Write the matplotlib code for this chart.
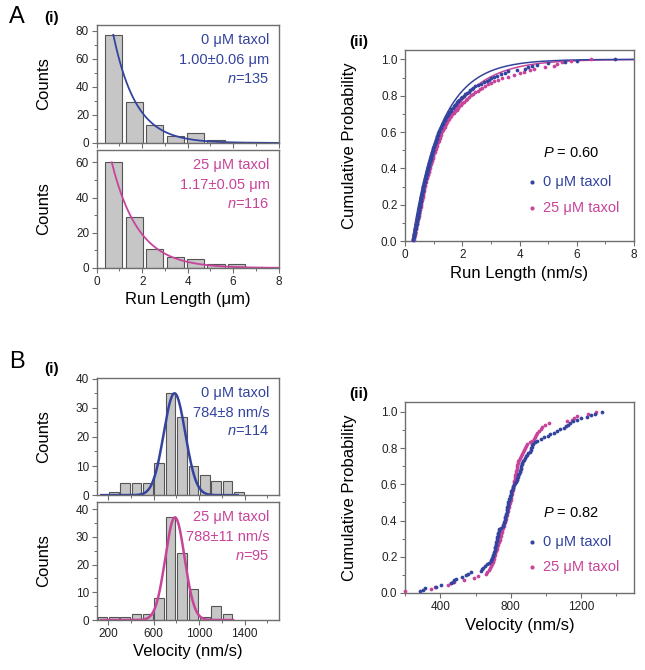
import numpy as np
import matplotlib.pyplot as plt
from matplotlib.ticker import MultipleLocator

plt.rcParams["font.family"] = ["Liberation Sans", "DejaVu Sans"]
plt.rcParams["mathtext.fontset"] = "custom"
plt.rcParams["mathtext.rm"] = "Liberation Sans"
plt.rcParams["mathtext.it"] = "Liberation Sans:italic"

BLUE = "#34449e"
MAGENTA = "#c8449b"
SPINE = "#6e6e6e"

# run length histograms (bins of 0.9 um)
rl_centers = [0.75, 1.65, 2.55, 3.45, 4.35, 5.25, 6.15, 7.05]
rl_counts_0 = [77, 29, 13, 5, 7, 2, 1, 1]
rl_counts_25 = [60, 29, 11, 6, 5, 2, 2, 0]
rl_fit_len = [1.00, 1.17]
rl_fit_amp = [77, 60]
rl_fit_start = [0.73, 0.66]
rl_cdf_offset = 0.25

# velocity histograms (bins of 100 nm/s)
vel_centers = [150, 250, 350, 450, 550, 650, 750, 850, 950, 1050, 1150, 1250, 1350]
vel_counts_0 = [0, 1, 4, 4, 4, 11, 35, 27, 10, 7, 5, 5, 1]
vel_counts_25 = [1, 1, 1, 2, 2, 8, 37, 24, 11, 1, 5, 2, 0]
vel_fit_mean = [784, 788]
vel_fit_sd = [95, 85]
vel_fit_amp = [35, 37]
vel_fit_end = [1340, 1300]

# sorted single-molecule values for the cumulative plots
rl_sorted_0 = [
    0.28, 0.29, 0.30, 0.31, 0.32, 0.33, 0.34, 0.35, 0.36, 0.37, 0.38, 0.39, 0.40, 0.41,
    0.42, 0.43, 0.44, 0.45, 0.46, 0.46, 0.47, 0.48, 0.49, 0.50, 0.50, 0.51, 0.52,
    0.53, 0.54, 0.55, 0.56, 0.56, 0.57, 0.58, 0.59, 0.60, 0.61, 0.61, 0.62, 0.63, 0.64,
    0.65, 0.67, 0.68, 0.69, 0.71, 0.72, 0.73, 0.74, 0.75, 0.76, 0.77, 0.79, 0.80,
    0.81, 0.83, 0.84, 0.85, 0.87, 0.88, 0.89, 0.90, 0.92, 0.93, 0.94, 0.95, 0.97, 0.98,
    0.99, 1.01, 1.02, 1.04, 1.05, 1.07, 1.08, 1.10, 1.11, 1.13, 1.15, 1.16, 1.18,
    1.20, 1.22, 1.24, 1.27, 1.29, 1.31, 1.34, 1.37, 1.39, 1.41, 1.44, 1.46, 1.49, 1.52,
    1.55, 1.59, 1.62, 1.66, 1.70, 1.74, 1.78, 1.82, 1.86, 1.90, 1.95, 2.00, 2.05,
    2.10, 2.16, 2.22, 2.28, 2.33, 2.39, 2.45,
    2.55, 2.65, 2.75, 2.85, 2.95, 3.02, 3.10,
    3.20, 3.35, 3.50, 3.60, 3.90, 4.20, 4.30, 4.45, 4.60, 5.00, 5.60, 6.00, 7.35,
]
rl_sorted_25 = [
    0.30, 0.31, 0.32, 0.33, 0.34, 0.35, 0.36, 0.37, 0.38, 0.39, 0.41, 0.42,
    0.43, 0.44, 0.45, 0.47, 0.48, 0.49, 0.50, 0.51, 0.52, 0.54, 0.55,
    0.56, 0.57, 0.58, 0.59, 0.61, 0.62, 0.63, 0.64, 0.65, 0.66, 0.67, 0.68,
    0.70, 0.71, 0.73, 0.74, 0.76, 0.77, 0.79, 0.80, 0.82, 0.83, 0.85,
    0.86, 0.88, 0.89, 0.91, 0.93, 0.94, 0.96, 0.98, 0.99, 1.01, 1.03, 1.05,
    1.07, 1.09, 1.11, 1.13, 1.15, 1.17, 1.19, 1.21, 1.23, 1.25, 1.27, 1.29,
    1.32, 1.35, 1.38, 1.41, 1.44, 1.47, 1.50, 1.54, 1.57, 1.61, 1.65,
    1.70, 1.75, 1.80, 1.85, 1.90, 1.95, 2.00, 2.06, 2.12, 2.18, 2.24, 2.30,
    2.38, 2.46, 2.54, 2.62, 2.70, 2.78, 2.90, 3.00, 3.10, 3.25, 3.40,
    3.60, 3.80, 4.00, 4.15, 4.35, 4.50, 4.90, 5.20, 5.30, 5.50, 5.80, 6.50,
]
vel_sorted_0 = [
    283, 302, 312, 377, 402, 462, 471, 480, 490, 522, 546, 560, 575,
    631, 636, 640, 652, 665, 676, 687, 690, 694, 697, 700, 703, 706,
    708, 710, 712, 714, 716, 718, 720, 722, 723, 725, 727, 729, 732, 735,
    745, 755, 758, 762, 764, 766, 768, 770, 772, 774, 776, 777, 779, 780, 782, 784,
    786, 789, 791, 794, 796, 799, 801, 804, 807, 810, 815, 820, 825, 829, 834, 838,
    841, 844, 847, 850, 853, 856, 858, 861, 863, 866, 870, 875, 880, 885,
    892, 900, 910, 913, 916, 919, 922, 926, 940, 950, 970, 988, 1010, 1025,
    1045, 1063, 1080, 1100, 1112, 1125, 1138, 1155, 1175, 1200, 1232, 1255, 1279, 1320,
]
vel_sorted_25 = [
    200, 349, 368, 443, 460, 477, 537, 593, 616, 659, 668, 676, 684, 688, 692, 697,
    700, 704, 707, 710, 713, 716, 720, 723, 727, 730, 733, 737, 740, 744,
    747, 750, 753, 756, 759, 762, 765, 768, 772,
    775, 778, 780, 783, 786, 789, 791, 794, 797, 800,
    802, 804, 806, 808, 810, 812, 814, 817, 819,
    821, 823, 825, 827, 829, 831, 833, 836, 838, 841, 844, 847,
    852, 858, 864, 870, 875, 882, 888, 894, 908, 922, 930, 937, 944, 950,
    960, 970, 978, 995, 1015, 1118, 1146, 1160, 1175, 1241, 1285,
]

fig = plt.figure(figsize=(6.45, 6.7), dpi=100)


def style(ax, xmaj, xmin, ymaj, ymin, labels_x=True):
    for s in ax.spines.values():
        s.set_color(SPINE)
        s.set_linewidth(1.0)
    ax.xaxis.set_major_locator(MultipleLocator(xmaj))
    ax.xaxis.set_minor_locator(MultipleLocator(xmin))
    ax.yaxis.set_major_locator(MultipleLocator(ymaj))
    ax.yaxis.set_minor_locator(MultipleLocator(ymin))
    ax.tick_params(which="major", direction="out", length=3.5, width=0.8,
                   color=SPINE, labelsize=8.5, pad=2, labelcolor="#222222")
    ax.tick_params(which="minor", direction="out", length=2, width=0.7, color=SPINE)
    if not labels_x:
        ax.tick_params(axis="x", labelbottom=False)


def hist_panel(ax, centers, counts, width, color, lines):
    c = [x for x, n in zip(centers, counts) if n > 0]
    n = [v for v in counts if v > 0]
    ax.bar(c, n, width=width, color="#c6c6c6", edgecolor="#555555", linewidth=0.8, zorder=1)
    for k, t in enumerate(lines):
        ax.text(0.95, [0.87, 0.70, 0.545][k], t, transform=ax.transAxes,
                ha="right", va="center", color=color, fontsize=10.5)
    ax.set_ylabel("Counts", fontsize=12)
    ax.yaxis.set_label_coords(-0.25, 0.5)


def cdf_panel(ax, sorted_a, sorted_b):
    for vals, col in [(sorted_b, MAGENTA), (sorted_a, BLUE)]:
        v = np.array(vals)
        ax.plot(v, np.arange(1, len(v) + 1) / len(v), "o", ms=2.7, color=col,
                mec="none", zorder=3, clip_on=False)
    ax.set_ylabel("Cumulative Probability", fontsize=12)
    ax.yaxis.set_label_coords(-0.21, 0.5)


# ---- A(i) ----
axA1 = fig.add_axes([0.150, 0.7866, 0.282, 0.176])
hist_panel(axA1, rl_centers, rl_counts_0, 0.76, BLUE,
           ["0 μM taxol", "1.00±0.06 μm", "$n$=135"])
x = np.linspace(rl_fit_start[0], 8, 300)
axA1.plot(x, rl_fit_amp[0] * np.exp(-(x - rl_fit_start[0]) / rl_fit_len[0]), color=BLUE, lw=1.3)
axA1.set_xlim(0, 8)
axA1.set_ylim(0, 84)
style(axA1, 2, 1, 20, 10, labels_x=False)

axA2 = fig.add_axes([0.150, 0.600, 0.282, 0.176])
hist_panel(axA2, rl_centers, rl_counts_25, 0.76, MAGENTA,
           ["25 μM taxol", "1.17±0.05 μm", "$n$=116"])
x = np.linspace(rl_fit_start[1], 8, 300)
axA2.plot(x, rl_fit_amp[1] * np.exp(-(x - rl_fit_start[1]) / rl_fit_len[1]), color=MAGENTA, lw=1.3)
axA2.set_xlim(0, 8)
axA2.set_ylim(0, 67)
style(axA2, 2, 1, 20, 10)
axA2.set_xlabel("Run Length (μm)", fontsize=12, labelpad=3)

# ---- A(ii) ----
axA3 = fig.add_axes([0.628, 0.640, 0.355, 0.285])
x = np.linspace(rl_cdf_offset, 8, 300)
axA3.plot(x, 1 - np.exp(-(x - rl_cdf_offset) / rl_fit_len[1]), color=MAGENTA, lw=1.1, zorder=2)
axA3.plot(x, 1 - np.exp(-(x - rl_cdf_offset) / rl_fit_len[0]), color=BLUE, lw=1.1, zorder=2)
cdf_panel(axA3, rl_sorted_0, rl_sorted_25)
axA3.set_xlim(0, 8)
axA3.set_ylim(0, 1.05)
style(axA3, 2, 1, 0.2, 0.1)
axA3.yaxis.set_major_formatter(plt.FormatStrFormatter("%.1f"))
axA3.set_xlabel("Run Length (nm/s)", fontsize=12, labelpad=4)

# ---- B(i) ----
axB1 = fig.add_axes([0.150, 0.261, 0.282, 0.175])
hist_panel(axB1, vel_centers, vel_counts_0, 85, BLUE,
           ["0 μM taxol", "784±8 nm/s", "$n$=114"])
x = np.linspace(140, vel_fit_end[0], 400)
axB1.plot(x, vel_fit_amp[0] * np.exp(-0.5 * ((x - vel_fit_mean[0]) / vel_fit_sd[0]) ** 2),
          color=BLUE, lw=1.8)
axB1.set_xlim(100, 1700)
axB1.set_ylim(0, 40.3)
style(axB1, 400, 200, 10, 5, labels_x=False)
axB1.xaxis.set_major_locator(plt.FixedLocator([200, 600, 1000, 1400]))

axB2 = fig.add_axes([0.150, 0.0746, 0.282, 0.176])
hist_panel(axB2, vel_centers, vel_counts_25, 85, MAGENTA,
           ["25 μM taxol", "788±11 nm/s", "$n$=95"])
x = np.linspace(140, vel_fit_end[1], 400)
axB2.plot(x, vel_fit_amp[1] * np.exp(-0.5 * ((x - vel_fit_mean[1]) / vel_fit_sd[1]) ** 2),
          color=MAGENTA, lw=1.8)
axB2.set_xlim(100, 1700)
axB2.set_ylim(0, 42.5)
style(axB2, 400, 200, 10, 5)
axB2.xaxis.set_major_locator(plt.FixedLocator([200, 600, 1000, 1400]))
axB2.set_xlabel("Velocity (nm/s)", fontsize=12, labelpad=3)

# ---- B(ii) ----
axB3 = fig.add_axes([0.628, 0.115, 0.355, 0.285])
cdf_panel(axB3, vel_sorted_0, vel_sorted_25)
axB3.set_xlim(200, 1500)
axB3.set_ylim(0, 1.055)
style(axB3, 400, 200, 0.2, 0.1)
axB3.yaxis.set_major_formatter(plt.FormatStrFormatter("%.1f"))
axB3.set_xlabel("Velocity (nm/s)", fontsize=12, labelpad=4)

# legends / P values inside cumulative panels
for ax, pv, ys in [(axA3, "0.60", [0.461, 0.309, 0.173]), (axB3, "0.82", [0.421, 0.267, 0.136])]:
    ax.text(0.603, ys[0], "$P$ = " + pv, transform=ax.transAxes, va="center", fontsize=10.5)
    for y, col, lab in [(ys[1], BLUE, "0 μM taxol"), (ys[2], MAGENTA, "25 μM taxol")]:
        ax.plot([0.555], [y], "o", ms=3, color=col, mec="none", transform=ax.transAxes)
        ax.text(0.603, y, lab, transform=ax.transAxes, va="center", color=col, fontsize=10.5)

# panel letters
fig.text(17 / 645, 1 - 17 / 670, "A", fontsize=17, ha="center", va="center")
fig.text(52 / 645, 1 - 18 / 670, "(i)", fontsize=11, fontweight="bold", ha="center", va="center")
fig.text(359 / 645, 1 - 42 / 670, "(ii)", fontsize=11, fontweight="bold", ha="center", va="center")
fig.text(17 / 645, 1 - 362 / 670, "B", fontsize=17, ha="center", va="center")
fig.text(52 / 645, 1 - 369 / 670, "(i)", fontsize=11, fontweight="bold", ha="center", va="center")
fig.text(359 / 645, 1 - 394 / 670, "(ii)", fontsize=11, fontweight="bold", ha="center", va="center")

fig.savefig("out.png", dpi=100)
